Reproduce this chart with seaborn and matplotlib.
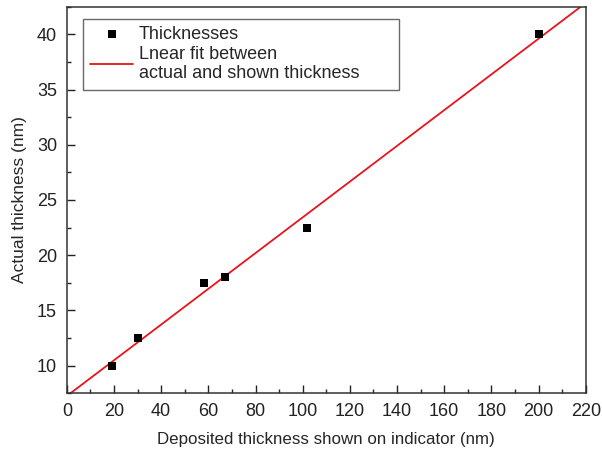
import numpy as np
import pandas as pd
import seaborn as sns
import matplotlib.pyplot as plt
from matplotlib.ticker import MultipleLocator

# data
shown_nm = [19, 30, 58, 67, 102, 200]
actual_nm = [10, 12.5, 17.5, 18, 22.5, 40]

df = pd.DataFrame({"shown": shown_nm, "actual": actual_nm})

sns.set_style("ticks")
plt.rcParams['font.family'] = ['Liberation Sans', 'DejaVu Sans']
plt.rcParams['xtick.direction'] = 'in'
plt.rcParams['ytick.direction'] = 'in'

fig = plt.figure(figsize=(6.02, 4.54), dpi=100)
ax = fig.add_axes([0.111, 0.134, 0.862, 0.851])
ax.set_xlim(0, 220)
ax.set_ylim(7.5, 42.5)

# linear fit through the points, extended over the whole x range
slope, intercept = np.polyfit(df["shown"], df["actual"], 1)
fit = pd.DataFrame({"shown": [0, 220]})
fit["actual"] = intercept + slope * fit["shown"]
sns.lineplot(data=fit, x="shown", y="actual", color="#e8141c", linewidth=1.3,
             ax=ax, label="Lnear fit between\nactual and shown thickness")

sns.scatterplot(data=df, x="shown", y="actual", marker="s", s=40, color="black",
                edgecolor="black", linewidth=0, ax=ax, label="Thicknesses", zorder=3)

ax.set_xticks(np.arange(0, 221, 20))
ax.set_yticks(np.arange(10, 41, 5))
ax.xaxis.set_minor_locator(MultipleLocator(10))
ax.yaxis.set_minor_locator(MultipleLocator(2.5))
ax.tick_params(which='major', length=6, width=1, labelsize=13, colors='#222222', pad=7)
ax.tick_params(which='minor', length=3, width=1)
for s in ax.spines.values():
    s.set_linewidth(1.1)
    s.set_color('#333333')

ax.set_xlabel("Deposited thickness shown on indicator (nm)", fontsize=12.2, labelpad=9)
ax.set_ylabel("Actual thickness (nm)", fontsize=12.5, labelpad=7)

h, l = ax.get_legend_handles_labels()
leg = ax.legend([h[1], h[0]], [l[1], l[0]], loc="upper left",
                bbox_to_anchor=(0.031, 0.0, 0.609, 0.969), mode="expand",
                fontsize=13, frameon=True, fancybox=False, edgecolor='#444444',
                handlelength=2.4, borderpad=0.4, labelspacing=0.15, handletextpad=0.3,
                borderaxespad=0)
leg.get_frame().set_linewidth(1.0)

fig.savefig("out.png", dpi=100)
